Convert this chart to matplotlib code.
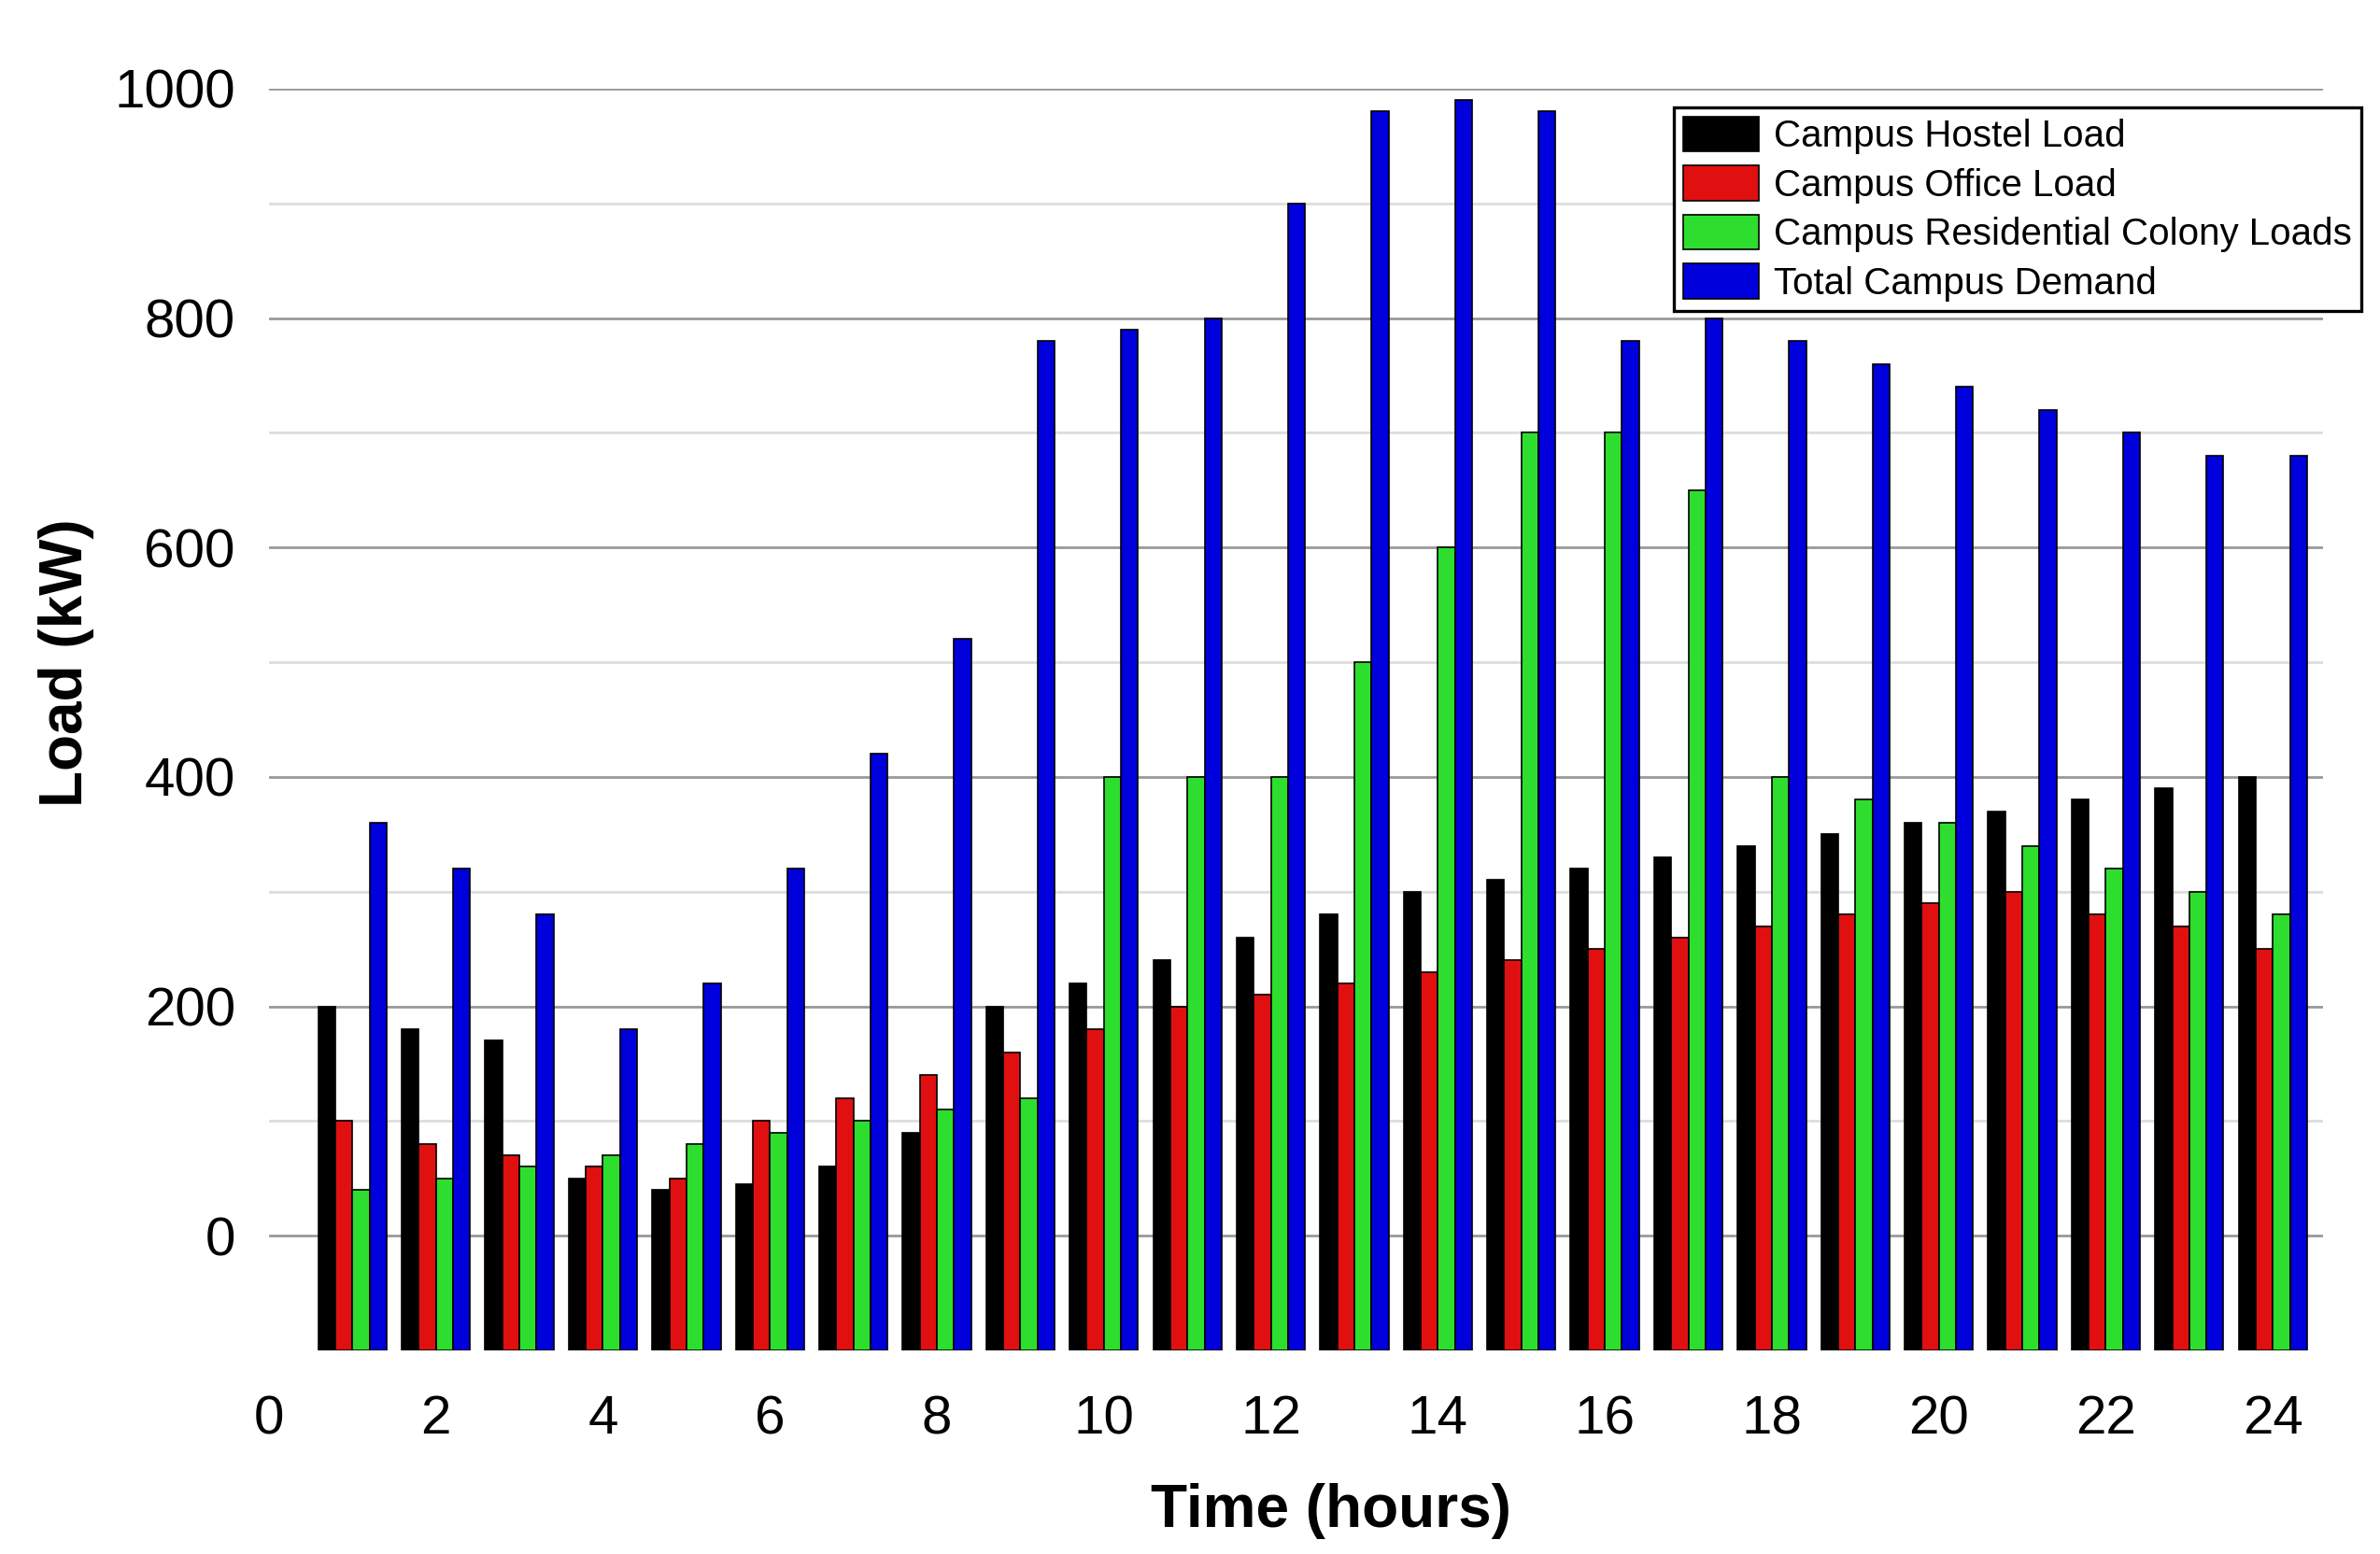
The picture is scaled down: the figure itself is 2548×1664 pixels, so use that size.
import matplotlib.pyplot as plt
import numpy as np

# hourly loads (kW)
hours = np.arange(1, 25)
hostel = [200, 180, 170, 50, 40, 45, 60, 90, 200, 220, 240, 260,
          280, 300, 310, 320, 330, 340, 350, 360, 370, 380, 390, 400]
office = [100, 80, 70, 60, 50, 100, 120, 140, 160, 180, 200, 210,
          220, 230, 240, 250, 260, 270, 280, 290, 300, 280, 270, 250]
colony = [40, 50, 60, 70, 80, 90, 100, 110, 120, 400, 400, 400,
          500, 600, 700, 700, 650, 400, 380, 360, 340, 320, 300, 280]
total = [360, 320, 280, 180, 220, 320, 420, 520, 780, 790, 800, 900,
         980, 990, 980, 780, 800, 780, 760, 740, 720, 700, 680, 680]

series = [hostel, office, colony, total]
names = ["Campus Hostel Load", "Campus Office Load",
         "Campus Residential Colony Loads", "Total Campus Demand"]
colors = ["#000000", "#e01010", "#2ede2e", "#0000dd"]

fam = ["Liberation Sans Narrow", "Liberation Sans", "DejaVu Sans"]

fig = plt.figure(figsize=(12.74, 8.32), dpi=200)
ax = fig.add_axes([0.113, 0.131, 0.863, 0.812])

w = 0.205
base = -100
for i, (vals, name, col) in enumerate(zip(series, names, colors)):
    heights = np.array(vals) - base
    ax.bar(hours + (i - 1.5) * w, heights, width=w, bottom=base,
           color=col, edgecolor="black", linewidth=0.6, label=name, zorder=3)

ax.set_xlim(0, 24.6)
ax.set_ylim(-100, 1000)
ax.set_xticks(np.arange(0, 25, 2))
ax.set_yticks(np.arange(0, 1001, 200))
ax.set_yticks(np.arange(100, 1000, 200), minor=True)
ax.grid(axis="y", which="major", color="#999999", linewidth=1.0, zorder=0)
ax.grid(axis="y", which="minor", color="#dddddd", linewidth=1.0, zorder=0)
ax.tick_params(axis="both", which="both", length=0)
ax.tick_params(axis="y", pad=13)
ax.tick_params(axis="x", pad=17)
for lab in ax.get_xticklabels() + ax.get_yticklabels():
    lab.set_fontfamily(fam)
    lab.set_fontsize(21)
for s in ax.spines.values():
    s.set_visible(False)

ax.set_xlabel("Time (hours)", fontsize=23, fontweight="bold",
              family=["Liberation Sans", "DejaVu Sans"])
ax.set_ylabel("Load (kW)", fontsize=23, fontweight="bold",
              family=["Liberation Sans", "DejaVu Sans"])
ax.xaxis.set_label_coords(0.517, -0.105)
ax.yaxis.set_label_coords(-0.085, 0.545)

leg = ax.legend(loc="upper right", bbox_to_anchor=(0.992, 0.931),
                bbox_transform=fig.transFigure, borderaxespad=0,
                fancybox=False, framealpha=1, edgecolor="black",
                prop={"family": fam, "size": 14.5},
                handlelength=2.0, handleheight=1.05, labelspacing=0.3,
                handletextpad=0.4, borderpad=0.25)
leg.get_frame().set_linewidth(1.2)
leg.set_zorder(5)

fig.savefig("out.png", dpi=200)
